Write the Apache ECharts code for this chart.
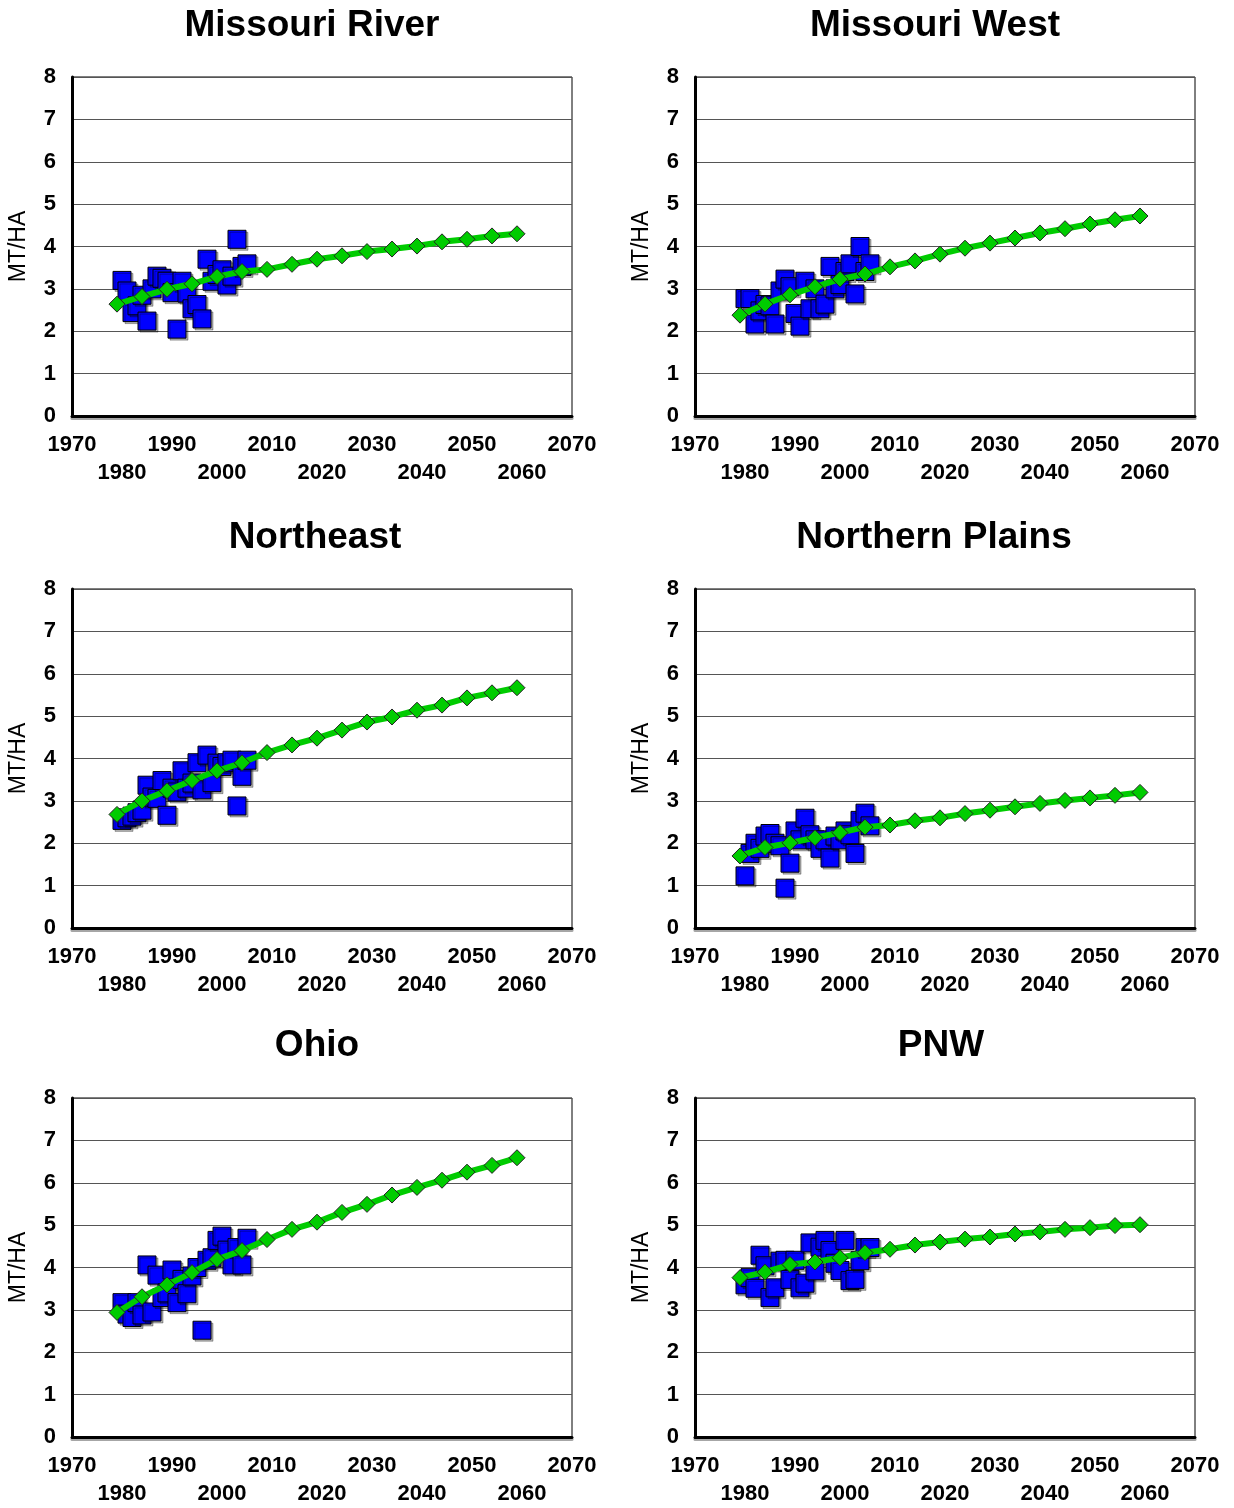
<!DOCTYPE html>
<html>
<head>
<meta charset="utf-8">
<script src="https://cdn.jsdelivr.net/npm/echarts@6/dist/echarts.min.js"></script>
<style>
html,body{margin:0;padding:0;background:#fff;}
#chart{width:1234px;height:1508px;}
</style>
</head>
<body>
<div id="chart"></div>
<script>
// ---------- DATA ----------
const regionNames = ["Missouri River", "Missouri West", "Northeast", "Northern Plains", "Ohio", "PNW"];

const obsYears = [1980, 1981, 1982, 1983, 1984, 1985, 1986, 1987, 1988, 1989, 1990, 1991, 1992,
                  1993, 1994, 1995, 1996, 1997, 1998, 1999, 2000, 2001, 2002, 2003, 2004, 2005];

const trendYears = [1979, 1984, 1989, 1994, 1999, 2004, 2009, 2014, 2019, 2024, 2029, 2034, 2039,
                    2044, 2049, 2054, 2059];

const xTickLabels = [1970, 1980, 1990, 2000, 2010, 2020, 2030, 2040, 2050, 2060, 2070];
const yTickLabels = [0, 1, 2, 3, 4, 5, 6, 7, 8];
const yAxisTitle = "MT/HA";

const obsMissouriRiver = [3.20, 2.95, 2.44, 2.60, 2.85, 2.24, 3.00, 3.30, 3.25, 3.18, 2.91, 2.05, 3.18,
                          2.90, 2.53, 2.63, 2.29, 3.70, 3.18, 3.34, 3.45, 3.09, 3.30, 4.17, 3.53, 3.59];
const obsMissouriWest  = [2.77, 2.77, 2.17, 2.48, 2.63, 2.60, 2.17, 2.95, 3.23, 3.05, 2.42, 2.12, 3.18,
                          2.53, 3.00, 2.53, 2.64, 3.53, 3.00, 3.10, 3.41, 3.59, 2.88, 4.00, 3.41, 3.59];
const obsNortheast     = [2.54, 2.60, 2.64, 2.72, 2.78, 3.37, 3.09, 3.06, 3.48, 2.66, 3.30, 3.21, 3.71,
                          3.30, 3.42, 3.90, 3.26, 4.08, 3.43, 3.89, 3.81, 3.90, 3.96, 2.88, 3.58, 3.96];
const obsNorthernPlains= [1.23, 1.76, 2.00, 1.88, 2.17, 2.23, 2.00, 1.94, 0.94, 1.53, 2.29, 2.08, 2.59,
                          2.20, 2.08, 1.88, 2.08, 1.65, 2.17, 2.08, 2.29, 2.20, 1.76, 2.54, 2.71, 2.41];
const obsOhio          = [3.17, 2.90, 2.82, 3.17, 2.88, 4.06, 2.95, 3.82, 3.29, 3.40, 3.94, 3.17, 3.72,
                          3.38, 3.80, 4.00, 2.52, 4.17, 4.23, 4.64, 4.74, 4.41, 4.06, 4.47, 4.06, 4.69];
const obsPNW           = [3.59, 3.76, 3.51, 4.29, 4.04, 3.29, 3.52, 4.15, 4.17, 3.72, 4.17, 3.52, 3.63,
                          4.58, 3.92, 4.48, 4.64, 4.40, 4.10, 3.93, 4.64, 3.69, 3.72, 4.16, 4.47, 4.47];

const trendMissouriRiver = [2.64, 2.82, 2.99, 3.12, 3.29, 3.41, 3.46, 3.58, 3.70, 3.78, 3.88, 3.94, 4.01, 4.11, 4.17, 4.25, 4.30];
const trendMissouriWest  = [2.38, 2.64, 2.86, 3.05, 3.23, 3.35, 3.52, 3.66, 3.82, 3.96, 4.08, 4.20, 4.32, 4.42, 4.53, 4.63, 4.72];
const trendNortheast     = [2.68, 3.00, 3.24, 3.48, 3.71, 3.90, 4.14, 4.32, 4.48, 4.67, 4.86, 4.98, 5.14, 5.26, 5.43, 5.55, 5.67];
const trendNorthernPlains= [1.70, 1.90, 2.01, 2.13, 2.25, 2.38, 2.43, 2.53, 2.60, 2.70, 2.78, 2.86, 2.94, 3.01, 3.07, 3.13, 3.20];
const trendOhio          = [2.94, 3.31, 3.59, 3.88, 4.19, 4.40, 4.66, 4.90, 5.07, 5.30, 5.49, 5.71, 5.89, 6.06, 6.25, 6.41, 6.59];
const trendPNW           = [3.76, 3.89, 4.07, 4.13, 4.23, 4.35, 4.43, 4.53, 4.60, 4.67, 4.72, 4.79, 4.84, 4.90, 4.94, 4.99, 5.01];

const obsAll = [obsMissouriRiver, obsMissouriWest, obsNortheast, obsNorthernPlains, obsOhio, obsPNW];
const trendAll = [trendMissouriRiver, trendMissouriWest, trendNortheast, trendNorthernPlains, trendOhio, trendPNW];

// ---------- LAYOUT ----------
const colLeft = [72, 695];
const rowTop = [77, 589, 1098];
const plotW = 500, plotH = 339;
const titleCenterX = [312, 935, 315, 934, 317, 941];
const titleTop = [7, 519, 1027];

const FONT = '"Liberation Sans", Arial, sans-serif';

const grids = [], xAxes = [], yAxes = [], series = [], titles = [];

for (let i = 0; i < 6; i++) {
  const c = i % 2, r = Math.floor(i / 2);
  grids.push({
    left: colLeft[c], top: rowTop[r], width: plotW, height: plotH,
    show: true, borderColor: '#000', borderWidth: 1, backgroundColor: '#fff'
  });
  xAxes.push({
    gridIndex: i, type: 'value',
    min: xTickLabels[0], max: xTickLabels[xTickLabels.length - 1], interval: 10,
    axisLine: { show: true, onZero: false, lineStyle: { color: '#000', width: 3, shadowColor: 'rgba(0,0,0,0.35)', shadowOffsetY: 2 } },
    axisTick: { show: false },
    splitLine: { show: false },
    axisLabel: {
      show: true, margin: 15, fontFamily: FONT, fontWeight: 'bold', fontSize: 22,
      color: '#000', lineHeight: 28, showMinLabel: true, showMaxLabel: true,
      formatter: function (v) {
        const k = Math.round((v - 1970) / 10);
        return (k % 2 === 0) ? String(v) : '\n' + v;
      }
    }
  });
  yAxes.push({
    gridIndex: i, type: 'value',
    min: yTickLabels[0], max: yTickLabels[yTickLabels.length - 1], interval: 1,
    name: yAxisTitle, nameLocation: 'middle', nameRotate: 90, nameGap: 42,
    nameTextStyle: { fontFamily: FONT, fontSize: 23, color: '#000' },
    axisLine: { show: true, lineStyle: { color: '#000', width: 3 } },
    axisTick: { show: false },
    splitLine: { show: true, lineStyle: { color: '#555', width: 1 } },
    axisLabel: { margin: 16, fontFamily: FONT, fontWeight: 'bold', fontSize: 22, color: '#000',
                 padding: [4, 0, 0, 0] }
  });
  series.push({
    type: 'scatter', xAxisIndex: i, yAxisIndex: i,
    symbol: 'rect', symbolSize: 18,
    itemStyle: { color: '#0000ff', opacity: 1, borderColor: '#000', borderWidth: 1,
                 shadowColor: 'rgba(0,0,0,0.3)', shadowOffsetX: 2, shadowOffsetY: 2, shadowBlur: 0 },
    data: obsYears.map((y, j) => [y, obsAll[i][j]]),
    z: 2
  });
  series.push({
    type: 'line', xAxisIndex: i, yAxisIndex: i,
    symbol: 'diamond', symbolSize: 16, showAllSymbol: true,
    lineStyle: { color: '#00cc00', width: 6 },
    itemStyle: { color: '#00cc00', borderColor: '#222', borderWidth: 1 },
    data: trendYears.map((y, j) => [y, trendAll[i][j]]),
    z: 3
  });
  titles.push({
    text: regionNames[i], left: titleCenterX[i], top: titleTop[r], textAlign: 'center', padding: 0,
    textStyle: { fontFamily: FONT, fontWeight: 'bold', fontSize: 37, color: '#000' }
  });
}

const chart = echarts.init(document.getElementById('chart'), null, { renderer: 'canvas' });
chart.setOption({
  animation: false,
  backgroundColor: '#fff',
  title: titles,
  grid: grids,
  xAxis: xAxes,
  yAxis: yAxes,
  series: series
});
</script>
</body>
</html>
